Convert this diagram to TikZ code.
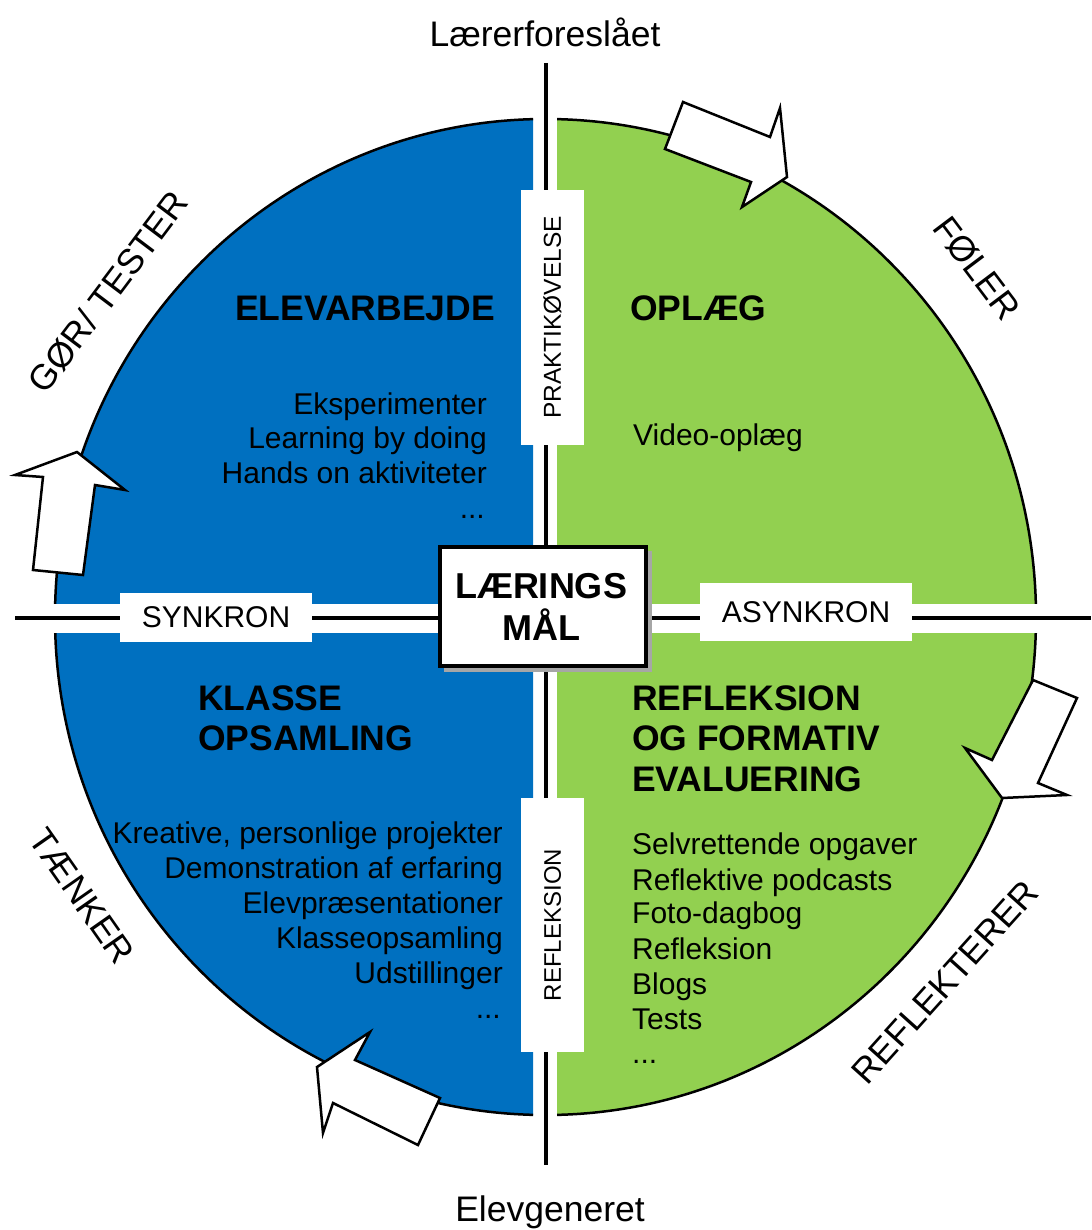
\documentclass[tikz,border=0pt]{standalone}
\usepackage{fontspec}
\setmainfont{Liberation Sans}
\definecolor{qblue}{HTML}{0070C0}
\definecolor{qgreen}{HTML}{92D050}
\begin{document}
\begin{tikzpicture}[x=1pt,y=-1pt,
  heading/.style={font=\fontsize{35.5}{40}\selectfont\bfseries, text=black, inner sep=0pt},
  item/.style={font=\fontsize{30}{35}\selectfont, text=black, inner sep=0pt},
  outer/.style={font=\fontsize{35.5}{40}\selectfont, text=black, inner sep=0pt},
  tag/.style={fill=white, inner sep=0pt, text=black},
  blockarrow/.style={draw=black, fill=white, line width=2.5pt, line join=miter},
  rim/.style={draw=black, line width=2.5pt},
  axis/.style={draw=black, line width=3.5pt}]
\useasboundingbox (0,0) rectangle (1091,1230);
\fill[white] (0,0) rectangle (1091,1230);

% quadrants
\foreach \xa/\xb/\ya/\yb/\c in {0/533/0/603/qblue, 0/533/633/1230/qblue, 557/1091/0/603/qgreen, 557/1091/633/1230/qgreen} {
  \begin{scope}
    \clip (\xa,\ya) rectangle (\xb,\yb);
    \filldraw[fill=\c, rim] (545.5,617) ellipse [x radius=490.5, y radius=498];
  \end{scope}
}

% axes
\coordinate (vtop) at (546,63);
\coordinate (vbot) at (546,1165);
\coordinate (hleft) at (15,618);
\coordinate (hright) at (1091,618);
\draw[axis] (vtop) -- (vbot);
\draw[axis] (hleft) -- (hright);

% block arrows (clockwise)
\draw[blockarrow] (683,102) -- (770,137) -- (780,108) -- (787,177) -- (742,207) -- (751,182) -- (665,149) -- cycle;
\draw[blockarrow] (1033,680) -- (1077,698) -- (1038,783) -- (1067,795) -- (1002,798) -- (965,748) -- (992,760) -- cycle;
\draw[blockarrow] (317,1067) -- (370,1032) -- (355,1060) -- (440,1098) -- (418,1145) -- (333,1103) -- (323,1133) -- cycle;
\draw[blockarrow] (77,452) -- (125,490) -- (95,485) -- (83,575) -- (33,570) -- (43,477) -- (15,475) -- cycle;

% tag boxes on axes
\node[tag, rotate=90, minimum width=255, minimum height=63, font=\fontsize{24.5}{28}\selectfont] (prak) at (552.5,317.5) {PRAKTIKØVELSE};
\node[tag, rotate=90, minimum width=254, minimum height=63, font=\fontsize{24}{28}\selectfont] (refl) at (552.5,925) {REFLEKSION};
\node[tag, minimum width=192, minimum height=49, font=\fontsize{30}{34}\selectfont] (syn) at (216,617.5) {SYNKRON};
\node[tag, minimum width=212, minimum height=58, font=\fontsize{30}{34}\selectfont] (asyn) at (806,612) {ASYNKRON};

% centre box
\fill[gray!70] (444,551) rectangle (652,672);
\node[draw=black, fill=white, line width=4pt, minimum width=206, minimum height=119, inner sep=0pt] (goal) at (543,606.5) {};
\node[heading, anchor=base, font=\fontsize{36}{40}\selectfont\bfseries] (goal1) at (541,598) {LÆRINGS};
\node[heading, anchor=base, font=\fontsize{36}{40}\selectfont\bfseries] (goal2) at (541,640) {MÅL};

% outer labels
\node[outer, anchor=base] (top) at (545,47) {Lærerforeslået};
\node[outer, anchor=base] (bot) at (550,1221) {Elevgeneret};
\node[outer, rotate=53] (gor) at (108,292) {GØR/ TESTER};
\node[outer, rotate=-53] (foler) at (977,268) {FØLER};
\node[outer, rotate=-55] (taenker) at (82,896) {TÆNKER};
\node[outer, rotate=48] (reflekterer) at (945,982) {REFLEKTERER};

% top-left quadrant
\node[heading, anchor=base east] (h1) at (495,320) {ELEVARBEJDE};
\node[item, anchor=base east] (a1) at (487,414) {Eksperimenter};
\node[item, anchor=base east] (a2) at (487,448) {Learning by doing};
\node[item, anchor=base east] (a3) at (487,483) {Hands on aktiviteter};
\node[item, anchor=base east] (a4) at (485,518) {...};

% top-right quadrant
\node[heading, anchor=base west] (h2) at (630,320) {OPLÆG};
\node[item, anchor=base west] (b1) at (633,445) {Video-oplæg};

% bottom-left quadrant
\node[heading, anchor=base west] (h3a) at (198,710) {KLASSE};
\node[heading, anchor=base west] (h3b) at (198,750) {OPSAMLING};
\node[item, anchor=base east] (c1) at (503,843) {Kreative, personlige projekter};
\node[item, anchor=base east] (c2) at (503,878) {Demonstration af erfaring};
\node[item, anchor=base east] (c3) at (503,913) {Elevpræsentationer};
\node[item, anchor=base east] (c4) at (503,948) {Klasseopsamling};
\node[item, anchor=base east] (c5) at (503,983) {Udstillinger};
\node[item, anchor=base east] (c6) at (501,1018) {...};

% bottom-right quadrant
\node[heading, anchor=base west] (h4a) at (632,710) {REFLEKSION};
\node[heading, anchor=base west] (h4b) at (632,750) {OG FORMATIV};
\node[heading, anchor=base west] (h4c) at (632,791) {EVALUERING};
\node[item, anchor=base west] (d1) at (632,854) {Selvrettende opgaver};
\node[item, anchor=base west] (d2) at (632,890) {Reflektive podcasts};
\node[item, anchor=base west] (d3) at (632,923) {Foto-dagbog};
\node[item, anchor=base west] (d4) at (632,959) {Refleksion};
\node[item, anchor=base west] (d5) at (632,994) {Blogs};
\node[item, anchor=base west] (d6) at (632,1029) {Tests};
\node[item, anchor=base west] (d7) at (632,1063) {...};
\end{tikzpicture}
\end{document}
